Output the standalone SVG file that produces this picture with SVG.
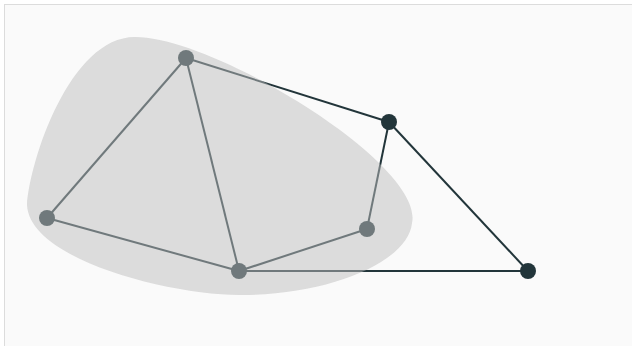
<svg xmlns="http://www.w3.org/2000/svg" width="632" height="346" viewBox="0 0 632 346">
<style>
.edge{stroke:#22353a;stroke-width:2;fill:none}
.node{fill:#22353a}
.hull{fill:#bebebe;fill-opacity:0.5}
</style>
<rect x="0" y="0" width="632" height="346" fill="#ffffff"/>
<rect x="4.5" y="4.5" width="700" height="400" fill="#fafafa" stroke="#dcdcdc" stroke-width="1"/>
<g id="connectors">
<line class="edge" x1="186" y1="58" x2="389" y2="122"/>
<line class="edge" x1="186" y1="58" x2="47" y2="218"/>
<line class="edge" x1="186" y1="58" x2="239" y2="271"/>
<line class="edge" x1="47" y1="218" x2="239" y2="271"/>
<line class="edge" x1="239" y1="271" x2="367" y2="229"/>
<line class="edge" x1="239" y1="271" x2="528" y2="271"/>
<line class="edge" x1="367" y1="229" x2="389" y2="122"/>
<line class="edge" x1="389" y1="122" x2="528" y2="271"/>
</g>
<g id="n1"><circle class="node" cx="186" cy="58" r="8"/></g>
<g id="n2"><circle class="node" cx="389" cy="122" r="8"/></g>
<g id="n3"><circle class="node" cx="47" cy="218" r="8"/></g>
<g id="n4"><circle class="node" cx="239" cy="271" r="8"/></g>
<g id="n5"><circle class="node" cx="367" cy="229" r="8"/></g>
<g id="n6"><circle class="node" cx="528" cy="271" r="8"/></g>
<path id="hull" class="hull" d="M135 37 C215 37 425 165 412 223 C408 262 330 295 240 295 C170 295 30 260 27 205 C30 160 70 37 135 37 Z"/>
</svg>
